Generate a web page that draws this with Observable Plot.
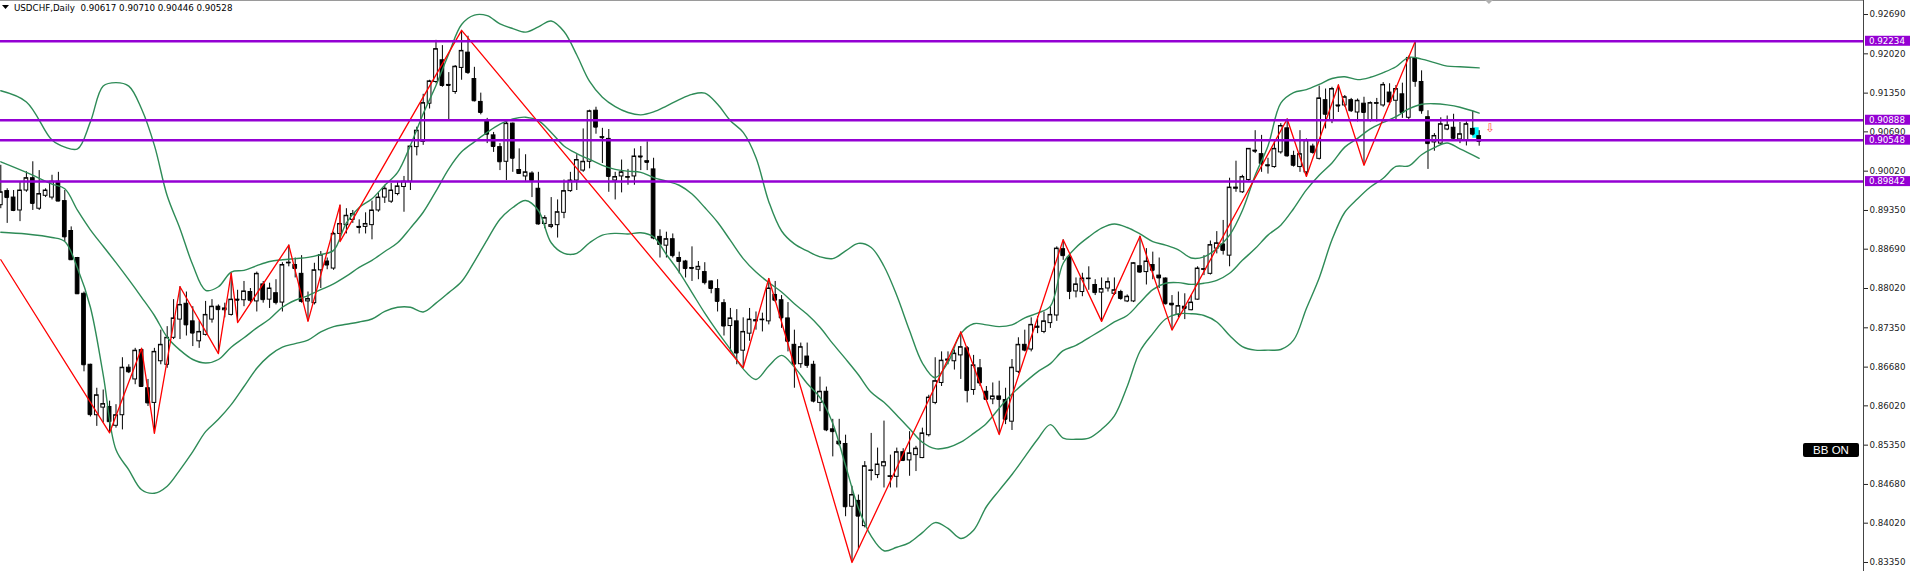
<!DOCTYPE html>
<html><head><meta charset="utf-8">
<script src="https://cdn.jsdelivr.net/npm/d3@7"></script>
<script src="https://cdn.jsdelivr.net/npm/@observablehq/plot@0.6"></script>
<style>
html,body{margin:0;padding:0;background:#fff;}
#chart{width:1913px;height:571px;overflow:hidden;}
</style></head><body><div id="chart"></div>
<script>
const symbol = "USDCHF", period = "Daily";
const opens = [
.8944,.8968,.8957,.8935,.8969,.8990,.8938,.8960,.8957,.8984,
.8951,.8900,.8854,.8793,.8672,.8586,.8599,.8600,.8568,.8586,
.8667,.8647,.8697,.8632,.8607,.8678,.8672,.8718,.8749,.8776,
.8746,.8712,.8723,.8749,.8771,.8765,.8757,.8783,.8782,.8796,
.8780,.8809,.8783,.8794,.8778,.8845,.8842,.8827,.8780,.8777,
.8833,.8848,.8836,.8895,.8910,.8919,.8907,.8907,.8910,.8935,
.8957,.8950,.8963,.8975,.8984,.9043,.9052,.9117,.9154,.9191,
.9149,.9137,.9178,.9204,.9159,.9120,.9089,.9063,.9043,.9018,
.9083,.9004,.8993,.8998,.8972,.8912,.8907,.8910,.8931,.8968,
.8986,.9003,.9018,.9105,.9060,.9057,.8986,.8993,.8991,.8993,
.9027,.9019,.9005,.8890,.8875,.8886,.8854,.8848,.8837,.8834,
.8830,.8814,.8801,.8777,.8738,.8746,.8696,.8725,.8746,.8748,
.8746,.8791,.8782,.8751,.8706,.8673,.8686,.8672,.8607,.8626,
.8562,.8541,.8537,.8430,.8440,.8397,.8491,.8484,.8499,.8481,
.8481,.8523,.8509,.8518,.8513,.8552,.8607,.8641,.8679,.8678,
.8688,.8700,.8629,.8666,.8626,.8613,.8618,.8612,.8575,.8660,
.8706,.8698,.8735,.8728,.8743,.8756,.8869,.8855,.8797,.8796,
.8818,.8808,.8795,.8802,.8793,.8796,.8780,.8780,.8840,.8830,
.8842,.8824,.8819,.8776,.8757,.8771,.8765,.8783,.8834,.8827,
.8870,.8877,.8858,.8972,.8966,.8987,.9037,.9031,.9012,.9009,
.9034,.9075,.9028,.9009,.9000,.9044,.9023,.9123,.9089,.9114,
.9114,.9123,.9102,.9117,.9089,.9117,.9114,.9136,.9122,.9133,
.9093,.9194,.9154,.9094,.9051,.9049,.9073,.9076,.9056,.9054,
.9074,.90617];
const highs = [
.9012,.8972,.8969,.8984,.9001,.9018,.9003,.8972,.8995,.9000,
.8969,.8907,.8855,.8796,.8673,.8632,.8629,.8610,.8604,.8684,
.8672,.8700,.8700,.8647,.8700,.8731,.8737,.8783,.8805,.8796,
.8771,.8746,.8780,.8783,.8774,.8777,.8828,.8799,.8814,.8802,
.8830,.8814,.8811,.8817,.8846,.8876,.8854,.8858,.8796,.8845,
.8865,.8854,.8898,.8944,.8938,.8935,.8919,.8931,.8951,.8966,
.8978,.8981,.8984,.8993,.9046,.9077,.9133,.9157,.9225,.9216,
.9170,.9182,.9242,.9232,.9179,.9135,.9092,.9068,.9049,.9086,
.9084,.9040,.9030,.9001,.9000,.8926,.8957,.8953,.8987,.9000,
.9030,.9074,.9106,.9111,.9075,.9073,.9000,.9021,.9005,.9040,
.9044,.9052,.9024,.8902,.8898,.8895,.8864,.8850,.8873,.8848,
.8846,.8815,.8817,.8783,.8768,.8766,.8752,.8768,.8762,.8760,
.8819,.8814,.8790,.8778,.8731,.8709,.8709,.8678,.8651,.8634,
.8579,.8579,.8552,.8465,.8450,.8507,.8555,.8530,.8576,.8518,
.8530,.8529,.8558,.8533,.8564,.8620,.8684,.8694,.8694,.8697,
.8728,.8703,.8688,.8681,.8635,.8641,.8644,.8632,.8681,.8718,
.8731,.8752,.8754,.8762,.8771,.8873,.8885,.8858,.8820,.8828,
.8839,.8817,.8820,.8820,.8820,.8799,.8791,.8846,.8891,.8870,
.8864,.8854,.8820,.8790,.8796,.8793,.8790,.8839,.8858,.8883,
.8899,.8918,.8990,.9019,.8995,.9040,.9071,.9063,.9024,.9055,
.9083,.9091,.9036,.9071,.9057,.9048,.9147,.9142,.9145,.9149,
.9131,.9126,.9125,.9128,.9120,.9126,.9153,.9151,.9148,.9152,
.9198,.9223,.9173,.9105,.9066,.9093,.9096,.9099,.9085,.9086,
.9104,.90710];
const lows = [
.8938,.8913,.8933,.8916,.8966,.8935,.8935,.8957,.8953,.8950,
.8882,.8850,.8792,.8660,.8583,.8567,.8573,.8556,.8564,.8561,
.8657,.8638,.8634,.8601,.8555,.8672,.8666,.8715,.8715,.8721,
.8703,.8700,.8721,.8743,.8691,.8752,.8755,.8744,.8771,.8777,
.8762,.8777,.8768,.8774,.8762,.8839,.8820,.8777,.8746,.8774,
.8802,.8834,.8833,.8882,.8895,.8913,.8895,.8895,.8885,.8932,
.8947,.8947,.8960,.8932,.8969,.9028,.9046,.9108,.9151,.9145,
.9089,.9133,.9157,.9167,.9120,.9098,.9049,.9034,.9003,.8986,
.9000,.8997,.8984,.8957,.8910,.8904,.8904,.8888,.8921,.8966,
.8969,.9000,.9006,.9065,.9015,.8966,.8953,.8965,.8978,.8978,
.9003,.9003,.8885,.8854,.8854,.8854,.8827,.8820,.8814,.8817,
.8808,.8793,.8762,.8721,.8694,.8672,.8668,.8712,.8731,.8728,
.8740,.8778,.8734,.8694,.8632,.8666,.8666,.8607,.8592,.8558,
.8515,.8533,.8413,.8335,.8357,.8394,.8474,.8478,.8462,.8462,
.8462,.8507,.8482,.8490,.8512,.8549,.8604,.8635,.8672,.8663,
.8647,.8607,.8620,.8635,.8611,.8604,.8553,.8570,.8560,.8657,
.8694,.8694,.8725,.8725,.8734,.8746,.8850,.8783,.8786,.8788,
.8799,.8790,.8746,.8796,.8790,.8782,.8778,.8778,.8828,.8808,
.8817,.8802,.8774,.8731,.8752,.8749,.8764,.8782,.8824,.8825,
.8861,.8859,.8839,.8966,.8964,.8984,.9032,.9000,.8997,.9007,
.9031,.9026,.9009,.9000,.8993,.9031,.9021,.9074,.9083,.9102,
.9111,.9102,.9086,.9012,.9086,.9086,.9111,.9114,.9089,.9092,
.9090,.9145,.9099,.9005,.9036,.9046,.9071,.9056,.9049,.9045,
.9062,.90446];
const closes = [
.8966,.8957,.8935,.8969,.8990,.8947,.8963,.8969,.8984,.8951,
.8890,.8851,.8793,.8672,.8587,.8620,.8605,.8575,.8586,.8667,
.8660,.8696,.8635,.8607,.8694,.8706,.8718,.8751,.8774,.8740,
.8726,.8728,.8757,.8771,.8766,.8768,.8783,.8782,.8797,.8782,
.8827,.8783,.8802,.8778,.8842,.8846,.8836,.8780,.8784,.8833,
.8859,.8842,.8895,.8912,.8926,.8929,.8906,.8912,.8935,.8957,
.8972,.8969,.8976,.8984,.9044,.9071,.9118,.9155,.9210,.9148,
.9148,.9180,.9207,.9170,.9122,.9102,.9065,.9044,.9018,.9083,
.9024,.8998,.9000,.8986,.8912,.8922,.8910,.8932,.8968,.8986,
.9021,.9018,.9104,.9077,.9059,.8993,.8992,.9000,.8992,.9027,
.9026,.9017,.8888,.8877,.8886,.8858,.8848,.8836,.8836,.8839,
.8812,.8802,.8780,.8738,.8751,.8692,.8728,.8749,.8748,.8749,
.8802,.8782,.8752,.8712,.8673,.8702,.8671,.8610,.8626,.8561,
.8558,.8537,.8430,.8450,.8414,.8499,.8492,.8502,.8506,.8482,
.8523,.8509,.8521,.8529,.8555,.8616,.8644,.8679,.8681,.8691,
.8702,.8628,.8671,.8641,.8613,.8618,.8613,.8579,.8667,.8706,
.8697,.8740,.8737,.8746,.8757,.8870,.8858,.8797,.8809,.8819,
.8819,.8795,.8801,.8813,.8799,.8785,.8788,.8845,.8830,.8848,
.8833,.8820,.8776,.8774,.8772,.8768,.8778,.8836,.8835,.8876,
.8879,.8867,.8974,.8974,.8992,.9040,.9036,.9015,.9011,.9040,
.9079,.9028,.9012,.9031,.9054,.9034,.9126,.9099,.9142,.9113,
.9128,.9105,.9122,.9102,.9118,.9118,.9149,.9120,.9142,.9102,
.9195,.9155,.9105,.9049,.9062,.9082,.9080,.9058,.9065,.9082,
.9065,.90528];

// Bollinger bands read at sampled bars
const bbIndex = [0,4,8,10,12,14,16,18,20,22,24,26,28,30,32,34,36,38,40,42,44,46,48,50,52,54,56,58,60,62,64,66,68,70,72,74,76,78,80,82,84,86,88,90,92,94,96,98,100,102,104,106,108,110,112,114,116,118,120,122,124,126,128,130,132,134,136,138,140,142,144,146,148,150,152,154,156,158,160,162,164,166,168,170,172,174,176,178,180,182,184,186,188,190,192,194,196,198,200,202,204,206,208,210,212,214,216,218,220,222,224,226,228,231];
const bbUpper = [.9139,.9120,.9055,.9043,.9040,.9086,.9147,.9153,.9147,.9108,.9046,.8960,.8904,.8842,.8799,.8805,.8830,.8833,.8841,.8848,.8851,.8853,.8855,.8860,.8867,.8914,.8940,.8955,.8978,.9000,.9046,.9100,.9148,.9202,.9252,.9268,.9267,.9253,.9245,.9239,.9248,.9258,.9240,.9200,.9155,.9128,.9112,.9102,.9098,.9103,.9113,.9124,.9133,.9135,.9116,.9088,.9068,.9025,.8950,.8900,.8878,.8866,.8856,.8853,.8866,.8879,.8872,.8840,.8790,.8730,.8675,.8650,.8676,.8725,.8742,.8740,.8737,.8740,.8752,.8760,.8772,.8845,.8872,.8890,.8905,.8912,.8906,.8895,.8882,.8876,.8868,.8854,.8856,.8870,.8893,.8935,.8995,.9045,.9118,.9136,.9141,.9150,.9160,.9163,.9158,.9162,.9170,.9180,.9196,.9193,.9187,.9181,.9180,.9178];
const bbMiddle = [.9018,.9000,.8980,.8972,.8935,.8902,.8874,.8846,.8817,.8787,.8756,.8719,.8697,.8681,.8675,.8681,.8702,.8718,.8735,.8750,.8770,.8782,.8790,.8800,.8810,.8823,.8838,.8850,.8865,.8880,.8905,.8932,.8968,.9006,.9035,.9052,.9068,.9082,.9091,.9094,.9088,.9068,.9045,.9032,.9022,.9012,.9005,.9002,.9000,.8991,.8985,.8978,.8963,.8940,.8915,.8884,.8853,.8830,.8812,.8796,.8776,.8758,.8736,.8708,.8682,.8655,.8625,.8608,.8586,.8563,.8540,.8529,.8531,.8540,.8555,.8572,.8598,.8622,.8642,.8660,.8674,.8696,.8705,.8718,.8731,.8745,.8756,.8778,.8800,.8811,.8812,.8809,.8811,.8816,.8828,.8850,.8870,.8893,.8910,.8938,.8970,.8995,.9016,.9043,.9058,.9074,.9085,.9095,.9108,.9116,.9117,.9115,.9111,.9101];
const bbLower = [.8898,.8895,.8889,.8882,.8836,.8770,.8655,.8527,.8493,.8459,.8453,.8465,.8493,.8524,.8558,.8579,.8604,.8635,.8666,.8688,.8702,.8708,.8714,.8728,.8737,.8741,.8745,.8750,.8763,.8770,.8770,.8762,.8777,.8795,.8814,.8848,.8885,.8920,.8940,.8952,.8935,.8880,.8862,.8862,.8880,.8893,.8896,.8895,.8897,.8890,.8860,.8830,.8795,.8760,.8728,.8698,.8665,.8647,.8670,.8688,.8668,.8640,.8616,.8572,.8500,.8428,.8380,.8355,.8361,.8369,.8386,.8403,.8393,.8376,.8390,.8430,.8458,.8485,.8515,.8545,.8570,.8547,.8545,.8547,.8562,.8585,.8635,.8695,.8725,.8750,.8759,.8759,.8756,.8745,.8722,.8703,.8697,.8697,.8698,.8714,.8768,.8820,.8885,.8932,.8955,.8975,.8990,.9010,.9011,.9030,.9042,.9050,.9040,.9024];

// ZigZag turning points
const zigzagIndex = [0,17,22,24,28,34,36,37,45,48,53,53,72,116,120,133,150,156,166,172,178,183,201,204,209,213,221];
const zigzagPrice = [.8851,.8556,.8700,.8555,.8805,.8691,.8828,.8744,.8876,.8746,.8944,.8882,.9242,.8667,.8819,.8335,.8728,.8553,.8885,.8746,.8891,.8731,.9091,.8993,.9149,.9012,.9223];

// horizontal levels
const levels = [0.92234, 0.90888, 0.90548, 0.89842];
const yTicks = [0.92690,0.92020,0.91350,0.90690,0.90020,0.89350,0.88690,0.88020,0.87350,0.86680,0.86020,0.85350,0.84680,0.84020,0.83350];
// signal marker and highlight
const signalIndex = [231], signalPrice = [0.9075];
const highlightIndex = [230, 231], highlightPrice = [0.9058, 0.9076];

const candles = opens.map((o, k) => ({k, o, h: highs[k], l: lows[k], c: closes[k]}));
const bulls = candles.filter(d => d.c >= d.o);
const bears = candles.filter(d => d.c < d.o);
const bands = ["upper","middle","lower"].flatMap((name, j) => bbIndex.map((k, i) => ({k, name, v: [bbUpper, bbMiddle, bbLower][j][i]})));
const zz = zigzagIndex.map((k, i) => ({k, v: zigzagPrice[i]}));
const signals = signalIndex.map((k, i) => ({k, v: signalPrice[i]}));
const hl = [{k1: highlightIndex[0], k2: highlightIndex[1], v1: highlightPrice[0], v2: highlightPrice[1]}];

const levelColor = "#9400D3";
const bandColor = "#2E8B57";
const hw = 0.29;
const FONT = "'DejaVu Sans', sans-serif";

function overlay(index, scales, values, dimensions) {
  const {width, height, marginRight} = dimensions;
  const xr = width - marginRight;
  const g = d3.create("svg:g").attr("text-anchor", "start");
  g.append("line").attr("x1", 0).attr("x2", xr).attr("y1", 0.5).attr("y2", 0.5).attr("stroke", "#9a9a9a");
  g.append("line").attr("x1", xr + 0.5).attr("x2", xr + 0.5).attr("y1", 0).attr("y2", height).attr("stroke", "#444");
  // shift marker
  const sx = scales.x(closes.length + 0.6);
  g.append("path").attr("d", `M${sx-4},0L${sx+4},0L${sx},4Z`).attr("fill", "#b0b0b0");
  // price tags
  for (const v of levels) {
    const y = scales.y(v);
    g.append("rect").attr("x", xr + 2).attr("y", y - 5).attr("width", 45).attr("height", 10).attr("fill", levelColor);
    g.append("text").attr("x", xr + 6).attr("y", y).attr("dy", "0.36em").attr("text-anchor", "start").attr("fill", "#fff")
      .style("font-family", FONT).style("font-size", "8.7px").text(v.toFixed(5));
  }
  // BB ON button
  g.append("rect").attr("x", xr - 60).attr("y", 443).attr("width", 56).attr("height", 14).attr("rx", 2).attr("fill", "#000");
  g.append("text").attr("x", xr - 32).attr("y", 450).attr("dy", "0.36em").attr("text-anchor", "middle").attr("fill", "#fff")
    .style("font-family", "'Liberation Sans', Arial, sans-serif").style("font-size", "11.5px").text("BB ON");
  // header
  const n = closes.length - 1;
  const f = v => v.toFixed(5);
  g.append("path").attr("d", "M2,5L9,5L5.5,9Z").attr("fill", "#000");
  g.append("text").attr("x", 14).attr("y", 11).attr("text-anchor", "start").attr("fill", "#000")
    .style("font-family", FONT).style("font-size", "8.7px").style("white-space", "pre")
    .text(`${symbol},${period}  ${f(opens[n])} ${f(highs[n])} ${f(lows[n])} ${f(closes[n])}`);
  return g.node();
}

const chart = Plot.plot({
  width: 1913, height: 571,
  marginTop: 0, marginBottom: 0, marginLeft: 0, marginRight: 50,
  style: {background: "#fff", fontFamily: FONT, fontSize: "8.7px", color: "#222", overflow: "visible"},
  x: {type: "linear", domain: [-0.047, 291.05], axis: null},
  y: {domain: [0.831965, 0.92929], axis: "right", ticks: yTicks, tickFormat: d => d.toFixed(5), tickSize: 4, tickPadding: 2, label: null},
  marks: [
    Plot.rect(hl, {x1: "k1", x2: "k2", y1: "v1", y2: "v2", fill: "#00FFFF"}),
    Plot.ruleX(candles, {x: "k", y1: "l", y2: "h", stroke: "#000", strokeWidth: 1}),
    Plot.rect(bulls, {x1: d => d.k - hw, x2: d => d.k + hw, y1: "o", y2: "c", fill: "#fff", stroke: "#000", strokeWidth: 1}),
    Plot.rect(bears, {x1: d => d.k - hw, x2: d => d.k + hw, y1: "o", y2: "c", fill: "#000", stroke: "#000", strokeWidth: 1}),
    Plot.ruleY(candles, {y: "c", x1: d => d.k - hw, x2: d => d.k + hw, stroke: "#000", strokeWidth: 1}),
    Plot.line(bands, {x: "k", y: "v", z: "name", stroke: bandColor, strokeWidth: 1.4, curve: "catmull-rom"}),
    Plot.line(zz, {x: "k", y: "v", stroke: "#FF0000", strokeWidth: 1.3}),
    Plot.ruleY(levels, {stroke: levelColor, strokeWidth: 2.5}),
    Plot.text(signals, {x: "k", y: "v", text: () => "\u21E9", dx: 11, fill: "#FF5050", fontSize: 12}),
    overlay
  ]
});
document.getElementById("chart").appendChild(chart);
</script>
</body></html>
